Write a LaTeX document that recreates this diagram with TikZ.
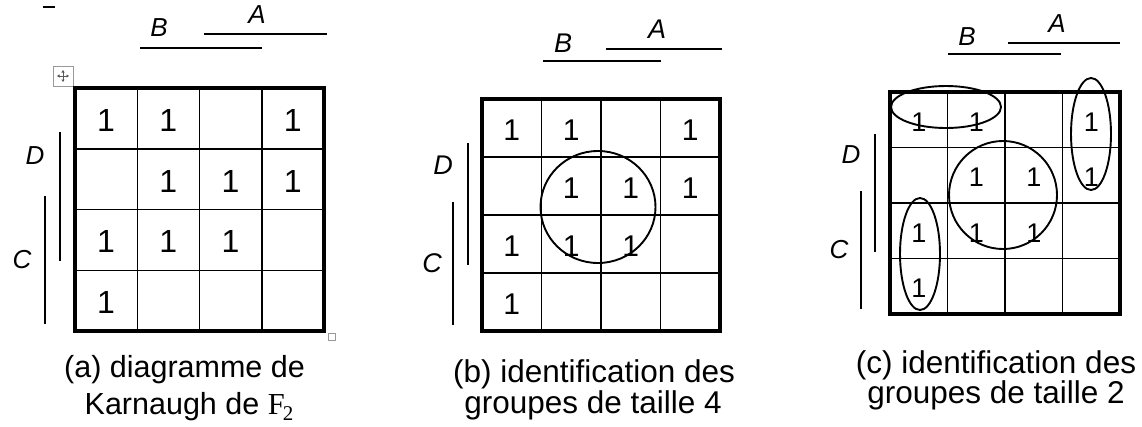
\documentclass[tikz,border=0pt]{standalone}
\usepackage{fontspec}
\setmainfont{Liberation Sans}
\newfontfamily\serifF{Liberation Serif}
\usetikzlibrary{arrows.meta}

% Karnaugh grid: #1 name, #2 x0, #3 y0, #4 cell width, #5 cell height, #6 digit size
\newcommand{\kgrid}[6]{%
  \foreach \i in {1,2,3}{%
    \draw[cellline] ({#2+\i*#4},#3) -- ({#2+\i*#4},{#3+4*#5});
    \draw[cellline] (#2,{#3+\i*#5}) -- ({#2+4*#4},{#3+\i*#5});
  }
  \draw[border] (#2,#3) rectangle ({#2+4*#4},{#3+4*#5});
  \foreach \r/\c in {1/1,1/2,1/4,2/2,2/3,2/4,3/1,3/2,3/3,4/1}{%
    \node[digit,font=\fontsize{#6}{#6}\selectfont] (#1-\r-\c)
      at ({#2+(\c-0.5)*#4},{#3+(\r-0.5)*#5+2}) {1};
  }
}
% italic variable name: #1 name, #2 letter, #3 position, #4 size
\newcommand{\vlabel}[4]{%
  \node[varlabel,font=\fontsize{#4}{#4}\selectfont\itshape] (#1) at #3 {#2};
}

\begin{document}
\begin{tikzpicture}[x=1pt,y=-1pt,
  cellline/.style={line width=1.5pt},
  border/.style={line width=3.3pt},
  digit/.style={inner sep=0pt},
  varlabel/.style={inner sep=0pt},
  bar/.style={line width=1.6pt},
  group/.style={line width=1.9pt},
  caption/.style={inner sep=0pt,anchor=base},
  handle/.style={draw=black!40,line width=1pt,fill=white}
]
\useasboundingbox (0,0) rectangle (1142,426);

% ---------- (a) ----------
\draw[line width=1.5pt] (43,7) coordinate (dashL) -- (55,7) coordinate (dashR);
\draw[handle] (53,66) rectangle (73,86);
\draw[black!65,line width=0.8pt,{Triangle[length=2.5pt,width=3pt]}-{Triangle[length=2.5pt,width=3pt]}] (57,76) -- (69,76);
\draw[black!65,line width=0.8pt,{Triangle[length=2.5pt,width=3pt]}-{Triangle[length=2.5pt,width=3pt]}] (63,70) -- (63,82);
\kgrid{a}{75}{88}{62.25}{60.75}{32}
\draw[handle] (328,333) rectangle (335,340);

\vlabel{aB}{B}{(159,28)}{26}
\vlabel{aA}{A}{(257,15)}{26}
\vlabel{aD}{D}{(35,156)}{26}
\vlabel{aC}{C}{(22,260)}{26}
\draw[bar] (140,48) -- (262,48);
\draw[bar] (204,34) -- (327,34);
\draw[bar] (60,132) -- (60,261);
\draw[bar] (45,196) -- (45,324);

\node[caption,font=\fontsize{30.5}{30.5}\selectfont] (capa1) at (184.5,377) {(a) diagramme de};
\node[caption,font=\fontsize{30.5}{30.5}\selectfont] (capa2) at (189,414)
  {Karnaugh de {\serifF F\kern-2pt\raisebox{-6pt}{\fontsize{21}{21}\selectfont 2}}};

% ---------- (b) ----------
\kgrid{b}{482}{99}{59.5}{58}{30}
\vlabel{bB}{B}{(563,43)}{27}
\vlabel{bA}{A}{(657,29)}{27}
\vlabel{bD}{D}{(443,165)}{27}
\vlabel{bC}{C}{(432,263)}{27}
\draw[bar] (543,61) -- (661,61);
\draw[bar] (606,49) -- (722,49);
\draw[bar] (468,143) -- (468,265);
\draw[bar] (453,202) -- (453,325);
\draw[group] (598,207) ellipse [x radius=57.5, y radius=56];

\node[caption,font=\fontsize{31.5}{31.5}\selectfont] (capb1) at (594,382) {(b) identification des};
\node[caption,font=\fontsize{31.5}{31.5}\selectfont] (capb2) at (593,413) {groupes de taille 4};

% ---------- (c) ----------
\kgrid{c}{890}{92}{57.5}{55.5}{27}
\vlabel{cB}{B}{(967,37)}{26}
\vlabel{cA}{A}{(1057,24)}{26}
\vlabel{cD}{D}{(851,155)}{26}
\vlabel{cC}{C}{(839,250)}{26}
\draw[bar] (948,54) -- (1061,54);
\draw[bar] (1008,43) -- (1120,43);
\draw[bar] (875,134) -- (875,252);
\draw[bar] (861,191) -- (861,309);
\draw[group] (1003,195) circle [radius=54];
\draw[group] (946,107) ellipse [x radius=55, y radius=21];
\draw[group] (1091,134) ellipse [x radius=20, y radius=56];
\draw[group] (920,254) ellipse [x radius=20, y radius=56];

\node[caption,font=\fontsize{31.5}{31.5}\selectfont] (capc1) at (996,373) {(c) identification des};
\node[caption,font=\fontsize{31.5}{31.5}\selectfont] (capc2) at (996,403) {groupes de taille 2};
\end{tikzpicture}
\end{document}
